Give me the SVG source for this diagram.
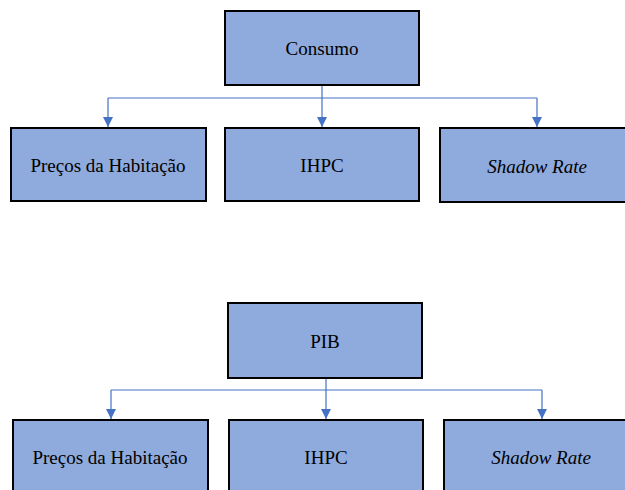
<svg xmlns="http://www.w3.org/2000/svg" width="625" height="490" viewBox="0 0 625 490">
<style>
.box{fill:#8faadc;stroke:#000;stroke-width:2}
.t{font-family:"Liberation Serif",serif;font-size:19px;fill:#000;text-anchor:middle}
.i{font-style:italic}
.c{fill:none;stroke:#4472c4;stroke-width:1.2}
</style>
<defs>
<marker id="ah" markerWidth="10" markerHeight="10" refX="10" refY="5" orient="auto" markerUnits="userSpaceOnUse">
<path d="M0,0 L10,5 L0,10 Z" fill="#4472c4"/>
</marker>
</defs>
<rect width="625" height="490" fill="#fff"/>
<g id="connectors">
<path class="c" d="M322,85 V98 M108,98 H537"/>
<path class="c" d="M108,98 V127" marker-end="url(#ah)"/>
<path class="c" d="M322,98 V127" marker-end="url(#ah)"/>
<path class="c" d="M537,98 V127" marker-end="url(#ah)"/>
<path class="c" d="M326,378 V390 M111,390 H542"/>
<path class="c" d="M111,390 V419" marker-end="url(#ah)"/>
<path class="c" d="M326,390 V419" marker-end="url(#ah)"/>
<path class="c" d="M542,390 V419" marker-end="url(#ah)"/>
</g>
<g id="consumo"><rect class="box" x="225" y="11" width="194" height="74"/><text class="t" x="322" y="55">Consumo</text></g>
<g id="precos1"><rect class="box" x="11" y="128" width="195" height="73"/><text class="t" x="108" y="172">Preços da Habitação</text></g>
<g id="ihpc1"><rect class="box" x="225" y="128" width="194" height="73"/><text class="t" x="322" y="172">IHPC</text></g>
<g id="shadow1"><rect class="box" x="440" y="128" width="195" height="74"/><text class="t i" x="537" y="173">Shadow Rate</text></g>
<g id="pib"><rect class="box" x="228" y="303" width="194" height="75"/><text class="t" x="325" y="348">PIB</text></g>
<g id="precos2"><rect class="box" x="13" y="420" width="195" height="80"/><text class="t" x="110" y="464">Preços da Habitação</text></g>
<g id="ihpc2"><rect class="box" x="229" y="420" width="194" height="80"/><text class="t" x="326" y="464">IHPC</text></g>
<g id="shadow2"><rect class="box" x="444" y="420" width="195" height="80"/><text class="t i" x="541" y="464">Shadow Rate</text></g>
</svg>
